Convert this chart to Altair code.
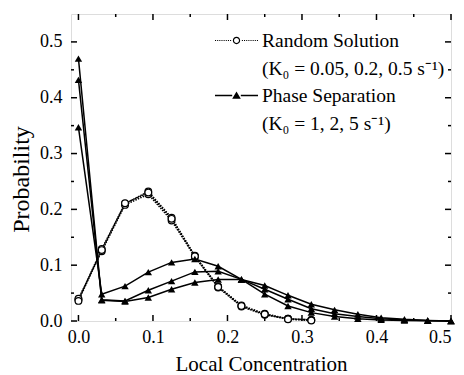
import altair as alt
import pandas as pd

# ---------------- data ----------------
x_vals = [0.0, 0.03125, 0.0625, 0.09375, 0.125, 0.15625, 0.1875, 0.21875,
          0.25, 0.28125, 0.3125, 0.34375, 0.375, 0.40625, 0.4375, 0.46875, 0.5]

# Random solution (K0 = 0.05, 0.2, 0.5 s^-1)
rand_1 = [0.038, 0.129, 0.210, 0.232, 0.185, 0.117, 0.062, 0.028, 0.013, 0.004, 0.002]
rand_2 = [0.040, 0.125, 0.208, 0.227, 0.180, 0.115, 0.060, 0.026, 0.011, 0.004, 0.002]
rand_3 = [0.036, 0.127, 0.211, 0.230, 0.183, 0.116, 0.061, 0.027, 0.012, 0.003, 0.001]

# Phase separation (K0 = 1, 2, 5 s^-1)
phase_1 = [0.347, 0.048, 0.0625, 0.0875, 0.105, 0.111, 0.098, 0.0745, 0.048, 0.027,
           0.015, 0.008, 0.004, 0.002, 0.001, 0.0005, 0.0]
phase_2 = [0.432, 0.038, 0.036, 0.055, 0.0714, 0.088, 0.089, 0.0745, 0.057, 0.039,
           0.022, 0.013, 0.008, 0.004, 0.002, 0.001, 0.0]
phase_3 = [0.470, 0.037, 0.035, 0.042, 0.057, 0.069, 0.0745, 0.0745, 0.0636, 0.046,
           0.030, 0.020, 0.012, 0.006, 0.003, 0.001, 0.0]

type_names = ["Random Solution", "Phase Separation"]
type_sub = ["(K\u2080 = 0.05, 0.2, 0.5 s\u207b\u00b9)", "(K\u2080 = 1, 2, 5 s\u207b\u00b9)"]
TICK = "tick"

x_domain = [-0.01, 0.5]
y_domain = [0.0, 0.55]
x_ticks_major = [0.0, 0.1, 0.2, 0.3, 0.4, 0.5]
x_ticks_minor = [0.05, 0.15, 0.25, 0.35, 0.45]
y_ticks_major = [0.0, 0.1, 0.2, 0.3, 0.4, 0.5]
y_ticks_minor = [0.05, 0.15, 0.25, 0.35, 0.45]

# ---------------- styling constants ----------------
FONT = "Liberation Serif"
W, H = 380, 307
MAJOR, MINOR = 6, 3

rows = []
for name, ser in [("r1", rand_1), ("r2", rand_2), ("r3", rand_3)]:
    for xv, yv in zip(x_vals, ser):
        rows.append({"x": xv, "y": yv, "series": name, "type": type_names[0]})
for name, ser in [("p1", phase_1), ("p2", phase_2), ("p3", phase_3)]:
    for xv, yv in zip(x_vals, ser):
        rows.append({"x": xv, "y": yv, "series": name, "type": type_names[1]})

# inward ticks on all four sides: short two-point segments placed through the scales
ux = (x_domain[1] - x_domain[0]) / W   # data units per pixel
uy = (y_domain[1] - y_domain[0]) / H
tid = 0
for vals, size in [(x_ticks_major, MAJOR), (x_ticks_minor, MINOR)]:
    for v in vals:
        for edge, sign in [(y_domain[0], 1), (y_domain[1], -1)]:
            rows.append({"x": v, "y": edge, "series": "t%d" % tid, "type": TICK})
            rows.append({"x": v, "y": edge + sign * size * uy, "series": "t%d" % tid, "type": TICK})
            tid += 1
for vals, size in [(y_ticks_major, MAJOR), (y_ticks_minor, MINOR)]:
    for v in vals:
        for edge, sign in [(x_domain[0], 1), (x_domain[1], -1)]:
            rows.append({"x": edge, "y": v, "series": "t%d" % tid, "type": TICK})
            rows.append({"x": edge + sign * size * ux, "y": v, "series": "t%d" % tid, "type": TICK})
            tid += 1
df = pd.DataFrame(rows)

xscale = alt.Scale(domain=x_domain, nice=False, zero=False)
yscale = alt.Scale(domain=y_domain, nice=False, zero=False)

base = alt.Chart(df)
is_rand = alt.datum.type == type_names[0]
is_phase = alt.datum.type == type_names[1]
is_phase_or_tick = alt.FieldOneOfPredicate(field="type", oneOf=[type_names[1], TICK])
not_tick = alt.datum.type != TICK

rand_lines = base.transform_filter(is_rand).mark_line(
    color="black", strokeWidth=1.5, strokeDash=[1.5, 1.2]
).encode(
    x=alt.X("x:Q", scale=xscale,
            axis=alt.Axis(orient="bottom", values=x_ticks_major, format=".1f",
                          ticks=False, domain=False, grid=False,
                          labelFont=FONT, labelFontSize=18, labelColor="black",
                          labelPadding=7, title="Local Concentration",
                          titleFont=FONT, titleFontSize=21, titleFontWeight="normal",
                          titleColor="black", titlePadding=7)),
    y=alt.Y("y:Q", scale=yscale,
            axis=alt.Axis(orient="left", values=y_ticks_major, format=".1f",
                          ticks=False, domain=False, grid=False,
                          labelFont=FONT, labelFontSize=18, labelColor="black",
                          labelPadding=9, title="Probability", titleY=165,
                          titleFont=FONT, titleFontSize=24, titleFontWeight="normal",
                          titleColor="black", titlePadding=6)),
    detail="series:N",
)

# phase-separation curves and the frame ticks share one solid-line layer
phase_lines = base.transform_filter(is_phase_or_tick).mark_line(
    color="black", strokeWidth=1.5
).encode(
    x=alt.X("x:Q", scale=xscale),
    y=alt.Y("y:Q", scale=yscale),
    detail="series:N",
)

rand_pts = base.transform_filter(is_rand).mark_point(
    shape="circle", filled=True, fill="white", stroke="black", strokeWidth=1.2,
    size=45, opacity=1
).encode(
    x=alt.X("x:Q", scale=xscale),
    y=alt.Y("y:Q", scale=yscale),
)

phase_pts = base.transform_filter(is_phase).mark_point(
    shape="triangle-up", filled=True, color="black", size=55, opacity=1
).encode(
    x=alt.X("x:Q", scale=xscale),
    y=alt.Y("y:Q", scale=yscale),
)

# ---- legend symbols drawn as filled shapes ----
K = 21.5 / 17.5   # symbol drawn wider than its nominal box


def rect(x0, x1, h):
    return "M%.3f,%.3fH%.3fV%.3fH%.3fZ" % (K * x0, -K * h, K * x1, K * h, K * x0)


def circ(r, sweep):
    r = K * r
    return "M%.3f,0A%.3f,%.3f 0 1,%d %.3f,0A%.3f,%.3f 0 1,%d %.3f,0Z" % (
        -r, r, r, sweep, r, r, r, sweep, -r)


dots = "".join(rect(-1 + 0.1 * i, -1 + 0.1 * i + 0.05, 0.025) for i in range(8))
dots += "".join(rect(0.25 + 0.1 * i, 0.25 + 0.1 * i + 0.05, 0.025) for i in range(8))
sym_random = dots + circ(0.17, 0) + circ(0.115, 1)
sym_phase = (rect(-1, -0.2, 0.035) + rect(0.2, 1, 0.035)
             + "M0,%.3fL%.3f,%.3fL%.3f,%.3fZ" % (-0.19 * K, 0.2 * K, 0.15 * K, -0.2 * K, 0.15 * K))

label_expr = ("datum.label == '%s' ? ['%s', '%s'] : ['%s', '%s']"
              % (type_names[0], type_names[0], type_sub[0], type_names[1], type_sub[1]))

legend_layer = base.transform_filter(not_tick).mark_point(
    opacity=0, filled=True, color="black"
).encode(
    x=alt.X("x:Q", scale=xscale),
    y=alt.Y("y:Q", scale=yscale),
    shape=alt.Shape("type:N", scale=alt.Scale(domain=type_names, range=[sym_random, sym_phase]),
                    legend=alt.Legend(title=None, orient="none", legendX=148, legendY=9,
                                      labelExpr=label_expr, labelFont=FONT, labelFontSize=19.5,
                                      labelColor="black", labelLimit=0, labelOffset=8,
                                      labelBaseline="middle",
                                      symbolSize=1225, symbolStrokeWidth=0,
                                      symbolFillColor="black", symbolOpacity=1,
                                      rowPadding=0)),
)

chart = alt.layer(
    rand_lines, phase_lines, rand_pts, phase_pts, legend_layer
).properties(
    width=W, height=H,
    autosize=alt.AutoSizeParams(type="none"),
    padding={"left": 71, "top": 14, "right": 13, "bottom": 54},
).configure_view(
    stroke="black", strokeWidth=1.3
).configure(
    style={"guide-label": {"lineHeight": 28}}
)

chart.save("out.html", embed_options={"renderer": "svg", "actions": False})
